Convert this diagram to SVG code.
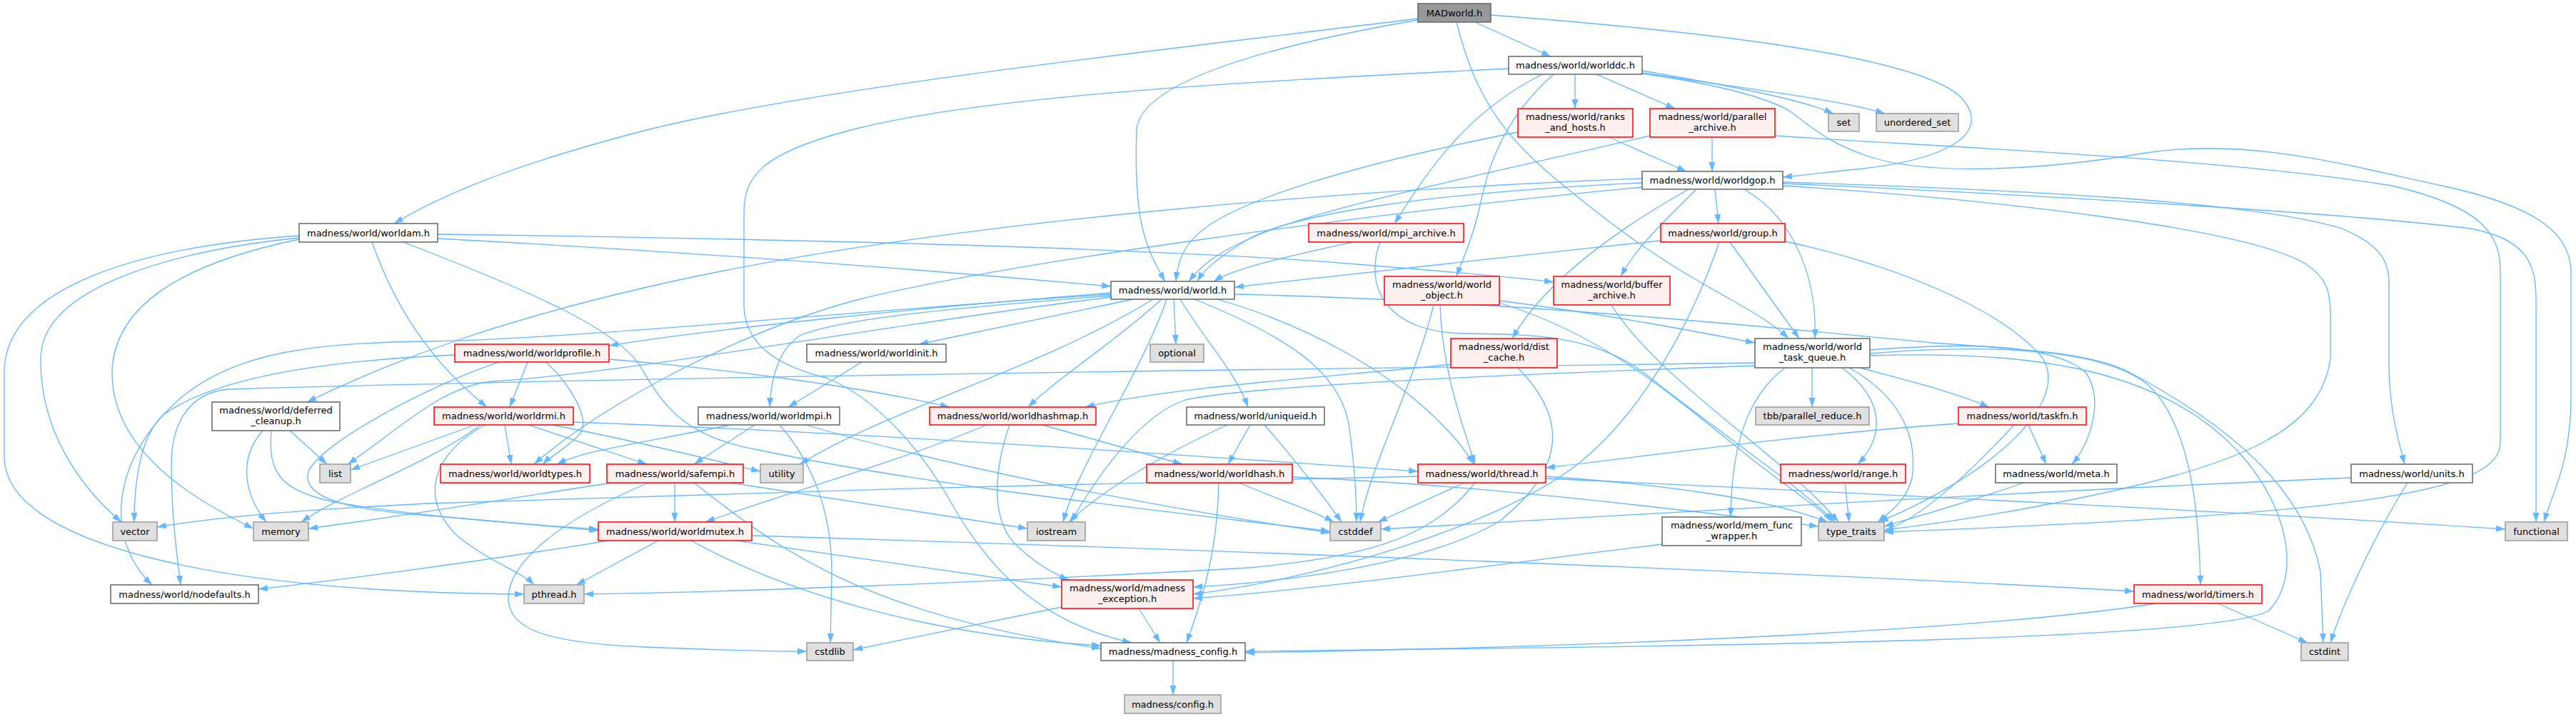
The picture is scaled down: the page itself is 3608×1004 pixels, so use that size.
<svg xmlns="http://www.w3.org/2000/svg" width="3608" height="1004" viewBox="0 0 3608 1004">
<style>
.e{fill:none;stroke:#63b8ff;stroke-width:1.3;marker-end:url(#arr)}
.n rect{fill:#ffffff;stroke:#666666;stroke-width:1.5}
.r rect{fill:#fff0f0;stroke:#ff0000;stroke-width:1.5}
.x rect{fill:#e0e0e0;stroke:#999999;stroke-width:1.5}
.root rect{fill:#999999;stroke:#666666;stroke-width:1.5}
text{font-family:"DejaVu Sans","Liberation Sans",sans-serif;font-size:13px;text-anchor:middle;fill:#000000}
</style>
<defs>
<marker id="arr" markerUnits="userSpaceOnUse" markerWidth="13" markerHeight="10" refX="13" refY="5" orient="auto" viewBox="0 0 13 10"><path d="M0,0.5 L13,5 L0,9.5 z" fill="#63b8ff"/></marker>
</defs>
<rect width="3608" height="1004" fill="#ffffff"/>
<g id="edges">
<path class="e" d="M1986,26 C1700,62 1150,120 902,183 C760,220 640,260 552,313"/>
<path class="e" d="M1986,28 C1800,60 1600,110 1592,180 C1588,300 1600,340 1632,394"/>
<path class="e" d="M2066,31 L2172,79"/>
<path class="e" d="M2040,31 C2075,170 2130,215 2260,315 C2380,405 2460,430 2505,474"/>
<path class="e" d="M2088,21 C2400,45 2700,80 2750,140 C2790,190 2720,225 2600,237 C2560,241 2530,245 2497,248"/>
<path class="e" d="M2160,104 C2050,160 2000,240 1953,313"/>
<path class="e" d="M2176,104 C2090,180 2080,260 2070,300 C2060,340 2050,360 2040,387"/>
<path class="e" d="M2206,104 L2206,152"/>
<path class="e" d="M2236,104 L2346,152"/>
<path class="e" d="M2300,99 C2420,120 2520,138 2568,159"/>
<path class="e" d="M2300,102 C2450,125 2580,140 2640,159"/>
<path class="e" d="M2300,103 C2420,120 2480,140 2506,155 C2540,180 2560,200 2620,220 C2700,245 2850,240 3000,215 C3150,190 3300,235 3420,260 C3560,290 3600,330 3601,380 L3601,560 C3600,650 3575,690 3563,731"/>
<path class="e" d="M2113,96 C1800,112 1400,130 1200,180 C1060,215 1042,250 1042,300 L1042,430 C1045,490 1100,515 1160,530 C1230,560 1290,630 1330,700 C1380,790 1450,870 1585,900"/>
<path class="e" d="M2253,192 L2362,240"/>
<path class="e" d="M2126,185 C1950,220 1800,260 1720,300 C1660,330 1650,360 1647,394"/>
<path class="e" d="M2398,192 L2398,240"/>
<path class="e" d="M2311,190 C2100,240 1850,290 1760,330 C1700,355 1680,375 1665,394"/>
<path class="e" d="M2486,190 C2700,205 3100,220 3350,260 C3480,290 3502,330 3502,380 L3502,620 C3502,690 3300,720 2639,745"/>
<path class="e" d="M2300,256 C2000,270 1800,300 1740,340 C1700,365 1685,380 1677,394"/>
<path class="e" d="M2300,250 C1900,265 1300,310 902,403 C700,450 560,500 430,563"/>
<path class="e" d="M2300,262 C1900,300 1400,370 1200,420 C1050,460 850,560 748,650"/>
<path class="e" d="M2365,265 C2250,330 2160,400 2118,474"/>
<path class="e" d="M2376,265 C2320,320 2290,350 2270,387"/>
<path class="e" d="M2402,265 L2407,313"/>
<path class="e" d="M2443,265 C2520,310 2545,400 2542,474"/>
<path class="e" d="M2497,260 C2800,280 3150,320 3230,370 C3260,390 3264,410 3264,440 L3264,502 C3250,600 3150,650 2900,700 C2800,720 2700,735 2639,742"/>
<path class="e" d="M2497,255 C2800,265 3150,280 3280,320 C3340,345 3346,370 3346,400 L3346,520 C3348,580 3360,620 3368,650"/>
<path class="e" d="M2497,257 C2900,275 3300,300 3460,320 C3540,335 3552,370 3552,420 L3552,731"/>
<path class="e" d="M613,334 Q1100,360 1556,401"/>
<path class="e" d="M613,328 C1000,333 1600,345 1900,370 C2050,382 2120,388 2176,395"/>
<path class="e" d="M521,339 C560,450 620,520 682,570"/>
<path class="e" d="M419,333 C250,350 60,400 57,500 C55,600 110,680 170,731"/>
<path class="e" d="M419,335 C250,370 160,430 157,520 C155,620 250,690 355,740"/>
<path class="e" d="M419,330 C200,345 8,400 6,520 L6,640 C6,760 300,830 734,832"/>
<path class="e" d="M562,338 C750,410 860,460 895,510 C925,560 950,610 1062,630 C1300,680 1600,712 1863,744"/>
<path class="e" d="M1895,339 C1800,360 1730,375 1700,394"/>
<path class="e" d="M1933,339 C1910,400 1940,465 2050,467 C2150,468 2230,470 2300,520 C2400,600 2520,680 2570,731"/>
<path class="e" d="M2326,337 C2100,360 1850,390 1729,402"/>
<path class="e" d="M2423,339 L2520,474"/>
<path class="e" d="M2500,338 C2650,370 2800,430 2860,500 C2900,560 2800,660 2632,731"/>
<path class="e" d="M2408,339 C2370,450 2300,580 2207,652 C2100,735 1850,810 1671,832"/>
<path class="e" d="M2100,421 C2250,440 2380,465 2458,480"/>
<path class="e" d="M2017,427 C2020,520 2050,600 2066,650"/>
<path class="e" d="M2008,427 C1980,540 1920,650 1905,731"/>
<path class="e" d="M2100,424 C2250,470 2350,560 2450,640 C2520,695 2555,715 2565,731"/>
<path class="e" d="M2257,427 C2320,530 2500,640 2575,731"/>
<path class="e" d="M1556,410 C1300,430 1000,460 853,484"/>
<path class="e" d="M1587,419 L1287,482"/>
<path class="e" d="M1644,419 L1647,482"/>
<path class="e" d="M1556,414 C1350,430 1180,445 1120,470 C1090,490 1080,530 1078,570"/>
<path class="e" d="M1627,419 C1560,480 1480,530 1440,570"/>
<path class="e" d="M1653,419 C1690,480 1730,520 1748,570"/>
<path class="e" d="M1556,416 C1200,460 900,520 690,534 C620,540 560,600 487,650"/>
<path class="e" d="M1615,419 C1450,520 1250,570 1120,650"/>
<path class="e" d="M1556,412 C1200,435 800,475 600,478 C450,480 330,490 250,560 C150,650 150,760 213,819"/>
<path class="e" d="M1634,419 C1600,520 1510,650 1489,731"/>
<path class="e" d="M1705,419 C1830,455 1950,520 2025,600 C2045,620 2058,640 2064,650"/>
<path class="e" d="M1673,419 C1800,470 1880,520 1890,600 C1898,660 1900,700 1900,731"/>
<path class="e" d="M1729,412 C2100,420 2500,460 2706,480 C2850,490 2930,495 2980,520 C3150,610 3230,700 3250,800 L3254,900"/>
<path class="e" d="M739,507 L714,570"/>
<path class="e" d="M765,507 C800,540 830,590 810,610 C790,630 770,640 760,650"/>
<path class="e" d="M637,497 C450,505 300,530 230,580 C195,610 188,680 188,731"/>
<path class="e" d="M699,507 C600,540 450,620 432,660 C420,700 500,715 600,722 C700,730 780,738 838,743"/>
<path class="e" d="M853,503 C1000,515 1200,540 1330,570"/>
<path class="e" d="M1207,507 L1104,570"/>
<path class="e" d="M2034,510 C1900,525 1650,540 1520,570"/>
<path class="e" d="M2126,515 C2190,580 2200,650 2100,730 C2000,790 1800,815 1671,822"/>
<path class="e" d="M2538,515 L2538,570"/>
<path class="e" d="M2605,515 C2680,535 2740,550 2786,570"/>
<path class="e" d="M2580,515 C2640,560 2640,610 2602,650"/>
<path class="e" d="M2619,490 C2750,480 2870,480 2920,520 C2950,560 2925,625 2902,650"/>
<path class="e" d="M2500,515 C2440,560 2425,640 2424,724"/>
<path class="e" d="M2590,515 C2670,560 2685,620 2678,670 C2670,700 2650,715 2630,731"/>
<path class="e" d="M2458,508 C2000,515 1000,525 320,545 C260,550 240,600 240,650 C240,720 248,780 253,819"/>
<path class="e" d="M2458,512 C2100,525 1750,540 1660,560 C1600,580 1540,660 1500,731"/>
<path class="e" d="M2619,495 C2800,480 2950,490 3010,540 C3070,600 3080,720 3082,819"/>
<path class="e" d="M2619,498 C2850,490 3000,520 3100,600 C3200,680 3230,800 3178,855 C3100,900 2300,905 1744,912"/>
<path class="e" d="M406,603 L458,650"/>
<path class="e" d="M368,603 C335,640 340,690 373,731"/>
<path class="e" d="M380,603 C375,660 390,690 480,705 C600,725 750,735 838,741"/>
<path class="e" d="M707,595 L716,650"/>
<path class="e" d="M740,595 L906,650"/>
<path class="e" d="M665,595 L491,658"/>
<path class="e" d="M673,595 C600,650 480,690 422,731"/>
<path class="e" d="M679,595 C600,640 590,700 640,750 C690,790 730,800 748,819"/>
<path class="e" d="M773,595 C880,615 980,640 1065,660"/>
<path class="e" d="M803,591 C1200,605 1700,640 1986,660"/>
<path class="e" d="M1057,595 L972,650"/>
<path class="e" d="M1023,595 C900,620 820,630 780,650"/>
<path class="e" d="M1092,595 C1140,650 1165,720 1165,800 L1163,900"/>
<path class="e" d="M1129,595 C1350,660 1650,715 1863,746"/>
<path class="e" d="M1460,595 L1656,650"/>
<path class="e" d="M1382,595 C1250,650 1100,690 988,731"/>
<path class="e" d="M1414,595 C1395,650 1385,720 1420,760 C1450,790 1480,805 1497,812"/>
<path class="e" d="M1751,595 L1720,650"/>
<path class="e" d="M1719,595 C1620,640 1540,690 1497,731"/>
<path class="e" d="M1771,595 C1810,640 1850,690 1879,731"/>
<path class="e" d="M2841,595 L2866,650"/>
<path class="e" d="M2743,593 C2500,610 2300,640 2165,655"/>
<path class="e" d="M2821,595 C2770,650 2700,720 2639,744"/>
<path class="e" d="M945,676 L945,731"/>
<path class="e" d="M857,676 C700,700 550,725 432,740"/>
<path class="e" d="M1023,676 L1439,740"/>
<path class="e" d="M972,676 C1080,760 1200,860 1542,908"/>
<path class="e" d="M908,676 C780,730 710,790 712,840 C715,880 760,900 902,906 C1000,910 1080,912 1130,912"/>
<path class="e" d="M1707,676 C1705,780 1680,850 1662,900"/>
<path class="e" d="M1736,676 C1790,700 1840,715 1868,731"/>
<path class="e" d="M1810,668 C2100,680 2400,720 2547,737"/>
<path class="e" d="M2066,676 C2000,760 1900,780 1750,795 C1400,815 1000,830 818,832"/>
<path class="e" d="M2051,676 L1930,731"/>
<path class="e" d="M2165,667 C2350,680 2480,700 2560,731"/>
<path class="e" d="M2165,670 C2600,690 3200,720 3509,741"/>
<path class="e" d="M1986,667 C1600,675 1000,690 600,705 C400,715 300,725 220,738"/>
<path class="e" d="M2584,676 L2590,731"/>
<path class="e" d="M2835,676 C2750,705 2680,725 2639,737"/>
<path class="e" d="M3293,669 C2800,690 2300,720 1934,741"/>
<path class="e" d="M3372,676 C3320,760 3280,850 3264,900"/>
<path class="e" d="M922,757 L807,819"/>
<path class="e" d="M853,757 C650,790 450,815 362,825"/>
<path class="e" d="M1031,757 L1487,822"/>
<path class="e" d="M968,757 C1100,830 1300,890 1542,904"/>
<path class="e" d="M1053,750 C1700,770 2500,800 2989,828"/>
<path class="e" d="M2328,762 C2100,790 1850,825 1671,838"/>
<path class="e" d="M1595,852 L1625,900"/>
<path class="e" d="M1487,850 L1195,910"/>
<path class="e" d="M3020,845 C2800,880 2300,905 1744,914"/>
<path class="e" d="M3106,845 L3232,900"/>
<path class="e" d="M1643,925 L1643,973"/>
</g>
<g id="n-MADworld" class="root"><rect x="1986" y="5" width="102" height="26"/><text x="2037" y="22.5">MADworld.h</text></g>
<g id="n-worlddc" class="n"><rect x="2113" y="79" width="187" height="25"/><text x="2206.5" y="96">madness/world/worlddc.h</text></g>
<g id="n-ranks" class="r"><rect x="2126" y="152" width="161" height="40"/><text x="2206.5" y="168">madness/world/ranks</text><text x="2206.5" y="183">_and_hosts.h</text></g>
<g id="n-parallel" class="r"><rect x="2311" y="152" width="175" height="40"/><text x="2398.5" y="168">madness/world/parallel</text><text x="2398.5" y="183">_archive.h</text></g>
<g id="n-set" class="x"><rect x="2561" y="159" width="43" height="25"/><text x="2582.5" y="176">set</text></g>
<g id="n-unordered_set" class="x"><rect x="2628" y="159" width="115" height="25"/><text x="2685.5" y="176">unordered_set</text></g>
<g id="n-worldgop" class="n"><rect x="2300" y="240" width="197" height="25"/><text x="2398.5" y="257">madness/world/worldgop.h</text></g>
<g id="n-worldam" class="n"><rect x="419" y="313" width="194" height="26"/><text x="516" y="330.5">madness/world/worldam.h</text></g>
<g id="n-mpi_archive" class="r"><rect x="1833" y="313" width="217" height="26"/><text x="1941.5" y="330.5">madness/world/mpi_archive.h</text></g>
<g id="n-group" class="r"><rect x="2326" y="313" width="174" height="26"/><text x="2413" y="330.5">madness/world/group.h</text></g>
<g id="n-world" class="n"><rect x="1556" y="394" width="173" height="25"/><text x="1642.5" y="411">madness/world/world.h</text></g>
<g id="n-world_object" class="r"><rect x="1939" y="387" width="161" height="40"/><text x="2019.5" y="403">madness/world/world</text><text x="2019.5" y="418">_object.h</text></g>
<g id="n-buffer_archive" class="r"><rect x="2176" y="387" width="163" height="40"/><text x="2257.5" y="403">madness/world/buffer</text><text x="2257.5" y="418">_archive.h</text></g>
<g id="n-worldprofile" class="r"><rect x="637" y="482" width="216" height="25"/><text x="745" y="499">madness/world/worldprofile.h</text></g>
<g id="n-worldinit" class="n"><rect x="1130" y="482" width="195" height="25"/><text x="1227.5" y="499">madness/world/worldinit.h</text></g>
<g id="n-optional" class="x"><rect x="1611" y="482" width="75" height="25"/><text x="1648.5" y="499">optional</text></g>
<g id="n-dist_cache" class="r"><rect x="2032" y="474" width="149" height="41"/><text x="2106.5" y="490">madness/world/dist</text><text x="2106.5" y="505">_cache.h</text></g>
<g id="n-world_task_queue" class="n"><rect x="2458" y="474" width="161" height="41"/><text x="2538.5" y="490">madness/world/world</text><text x="2538.5" y="505">_task_queue.h</text></g>
<g id="n-deferred_cleanup" class="n"><rect x="297" y="563" width="179" height="40"/><text x="386.5" y="579">madness/world/deferred</text><text x="386.5" y="594">_cleanup.h</text></g>
<g id="n-worldrmi" class="r"><rect x="608" y="570" width="195" height="25"/><text x="705.5" y="587">madness/world/worldrmi.h</text></g>
<g id="n-worldmpi" class="n"><rect x="978" y="570" width="198" height="25"/><text x="1077" y="587">madness/world/worldmpi.h</text></g>
<g id="n-worldhashmap" class="r"><rect x="1302" y="570" width="233" height="25"/><text x="1418.5" y="587">madness/world/worldhashmap.h</text></g>
<g id="n-uniqueid" class="n"><rect x="1662" y="570" width="193" height="25"/><text x="1758.5" y="587">madness/world/uniqueid.h</text></g>
<g id="n-tbb" class="x"><rect x="2459" y="570" width="159" height="25"/><text x="2538.5" y="587">tbb/parallel_reduce.h</text></g>
<g id="n-taskfn" class="r"><rect x="2743" y="570" width="179" height="25"/><text x="2832.5" y="587">madness/world/taskfn.h</text></g>
<g id="n-list" class="x"><rect x="448" y="650" width="43" height="26"/><text x="469.5" y="667.5">list</text></g>
<g id="n-worldtypes" class="r"><rect x="617" y="650" width="209" height="26"/><text x="721.5" y="667.5">madness/world/worldtypes.h</text></g>
<g id="n-safempi" class="r"><rect x="850" y="650" width="191" height="26"/><text x="945.5" y="667.5">madness/world/safempi.h</text></g>
<g id="n-utility" class="x"><rect x="1065" y="650" width="60" height="26"/><text x="1095" y="667.5">utility</text></g>
<g id="n-worldhash" class="r"><rect x="1606" y="650" width="204" height="26"/><text x="1708" y="667.5">madness/world/worldhash.h</text></g>
<g id="n-thread" class="r"><rect x="1986" y="650" width="179" height="26"/><text x="2075.5" y="667.5">madness/world/thread.h</text></g>
<g id="n-range" class="r"><rect x="2494" y="650" width="175" height="26"/><text x="2581.5" y="667.5">madness/world/range.h</text></g>
<g id="n-meta" class="n"><rect x="2795" y="650" width="170" height="26"/><text x="2880" y="667.5">madness/world/meta.h</text></g>
<g id="n-units" class="n"><rect x="3293" y="650" width="170" height="26"/><text x="3378" y="667.5">madness/world/units.h</text></g>
<g id="n-vector" class="x"><rect x="158" y="731" width="62" height="26"/><text x="189" y="748.5">vector</text></g>
<g id="n-memory" class="x"><rect x="355" y="731" width="77" height="26"/><text x="393.5" y="748.5">memory</text></g>
<g id="n-worldmutex" class="r"><rect x="838" y="731" width="215" height="26"/><text x="945.5" y="748.5">madness/world/worldmutex.h</text></g>
<g id="n-iostream" class="x"><rect x="1439" y="731" width="81" height="26"/><text x="1479.5" y="748.5">iostream</text></g>
<g id="n-cstddef" class="x"><rect x="1863" y="731" width="71" height="26"/><text x="1898.5" y="748.5">cstddef</text></g>
<g id="n-mem_func_wrapper" class="n"><rect x="2328" y="724" width="195" height="40"/><text x="2425.5" y="740">madness/world/mem_func</text><text x="2425.5" y="755">_wrapper.h</text></g>
<g id="n-type_traits" class="x"><rect x="2547" y="731" width="92" height="26"/><text x="2593" y="748.5">type_traits</text></g>
<g id="n-functional" class="x"><rect x="3509" y="731" width="87" height="26"/><text x="3552.5" y="748.5">functional</text></g>
<g id="n-nodefaults" class="n"><rect x="155" y="819" width="207" height="26"/><text x="258.5" y="836.5">madness/world/nodefaults.h</text></g>
<g id="n-pthread" class="x"><rect x="734" y="819" width="84" height="26"/><text x="776" y="836.5">pthread.h</text></g>
<g id="n-madness_exception" class="r"><rect x="1487" y="812" width="184" height="40"/><text x="1579" y="828">madness/world/madness</text><text x="1579" y="843">_exception.h</text></g>
<g id="n-timers" class="r"><rect x="2989" y="819" width="179" height="26"/><text x="3078.5" y="836.5">madness/world/timers.h</text></g>
<g id="n-cstdlib" class="x"><rect x="1130" y="900" width="65" height="25"/><text x="1162.5" y="917">cstdlib</text></g>
<g id="n-madness_config" class="n"><rect x="1542" y="900" width="202" height="25"/><text x="1643" y="917">madness/madness_config.h</text></g>
<g id="n-cstdint" class="x"><rect x="3223" y="900" width="66" height="25"/><text x="3256" y="917">cstdint</text></g>
<g id="n-config" class="x"><rect x="1575" y="973" width="135" height="26"/><text x="1642.5" y="990.5">madness/config.h</text></g>
</svg>
